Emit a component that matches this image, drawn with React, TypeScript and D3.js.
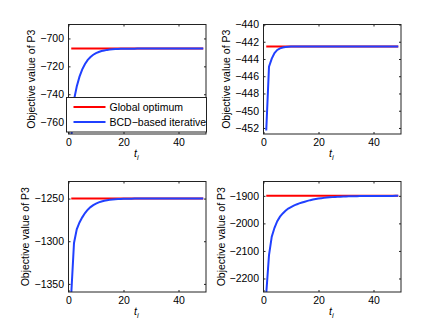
import React, { useEffect, useRef } from 'react';
import * as d3 from 'd3';

// iteration index t_i
const iterations = d3.range(1, 50);
const xTicks = [0, 20, 40];

// panel 1 (top left)
const optimumA = -707.2;
const bcdA = [
  -772, -744, -734.5, -727.4, -722.2, -718.3, -715.4, -713.3, -711.7, -710.5,
  -709.7, -709.0, -708.6, -708.2, -708.0, -707.8, -707.6, -707.5, -707.4, -707.4,
  -707.3, -707.3, -707.3, -707.3, -707.2, -707.2, -707.2, -707.2, -707.2, -707.2,
  -707.2, -707.2, -707.2, -707.2, -707.2, -707.2, -707.2, -707.2, -707.2, -707.2,
  -707.2, -707.2, -707.2, -707.2, -707.2, -707.2, -707.2, -707.2, -707.2
];
const yTicksA = [-760, -740, -720, -700];

// panel 2 (top right)
const optimumB = -442.55;
const bcdB = [
  -452.3, -444.9, -443.95, -443.3, -442.95, -442.76, -442.66, -442.6, -442.57, -442.56,
  -442.555, -442.55, -442.55, -442.55, -442.55, -442.55, -442.55, -442.55, -442.55, -442.55,
  -442.55, -442.55, -442.55, -442.55, -442.55, -442.55, -442.55, -442.55, -442.55, -442.55,
  -442.55, -442.55, -442.55, -442.55, -442.55, -442.55, -442.55, -442.55, -442.55, -442.55,
  -442.55, -442.55, -442.55, -442.55, -442.55, -442.55, -442.55, -442.55, -442.55
];
const yTicksB = [-452, -450, -448, -446, -444, -442, -440];

// panel 3 (bottom left)
const optimumC = -1250;
const bcdC = [
  -1362, -1302, -1286, -1278, -1272, -1267, -1263, -1260, -1257.7, -1255.9,
  -1254.5, -1253.4, -1252.6, -1252, -1251.5, -1251.1, -1250.8, -1250.6, -1250.4, -1250.3,
  -1250.2, -1250.15, -1250.1, -1250, -1250, -1250, -1250, -1250, -1250, -1250,
  -1250, -1250, -1250, -1250, -1250, -1250, -1250, -1250, -1250, -1250,
  -1250, -1250, -1250, -1250, -1250, -1250, -1250, -1250, -1250
];
const yTicksC = [-1350, -1300, -1250];

// panel 4 (bottom right)
const optimumD = -1900;
const bcdD = [
  -2255, -2115, -2048, -2016, -1992, -1975.5, -1964, -1954.4, -1946, -1940.6,
  -1935.6, -1931.3, -1927.5, -1924.2, -1921.3, -1918.3, -1915.7, -1913.5, -1911.6, -1910,
  -1908.6, -1907.4, -1906.3, -1905.4, -1904.7, -1904, -1903.5, -1903, -1902.5, -1902.2,
  -1901.9, -1901.6, -1901.4, -1901.2, -1901, -1900.9, -1900.8, -1900.7, -1900.6, -1900.5,
  -1900.45, -1900.4, -1900.35, -1900.3, -1900.25, -1900.2, -1900.2, -1900.15, -1900.1
];
const yTicksD = [-2200, -2100, -2000, -1900];

const legendLabels = ['Global optimum', 'BCD\u2212based iterative'];
const yLabel = 'Objective value of P3';

const panels = [
  { optimum: optimumA, bcd: bcdA, yTicks: yTicksA, yDomain: [-768.5, -690], box: [68.5, 24.5, 206, 134], labelGap: 37, legend: true },
  { optimum: optimumB, bcd: bcdB, yTicks: yTicksB, yDomain: [-452.7, -440], box: [263.5, 24.5, 401, 134], labelGap: 37.5, legend: false },
  { optimum: optimumC, bcd: bcdC, yTicks: yTicksC, yDomain: [-1359.5, -1230], box: [68.5, 181.5, 206, 292], labelGap: 43.5, legend: false },
  { optimum: optimumD, bcd: bcdD, yTicks: yTicksD, yDomain: [-2249, -1848], box: [263.5, 181.5, 401, 292], labelGap: 42.5, legend: false }
];

const FONT = '"Liberation Sans", Arial, Helvetica, sans-serif';
const RED = '#ff0000';
const BLUE = '#2040ff';
const fmt = d3.format('d');

function drawPanel(svg: any, p: any, idx: number) {
  const [left, top, right, bottom] = p.box;
  const x = d3.scaleLinear().domain([0, 50]).range([left, right]);
  const y = d3.scaleLinear().domain(p.yDomain).range([bottom, top]);

  const clipId = 'clip-' + idx;
  svg.append('clipPath').attr('id', clipId)
    .append('rect')
    .attr('x', left).attr('y', top)
    .attr('width', right - left).attr('height', bottom - top);

  const g = svg.append('g');

  g.append('rect')
    .attr('x', left).attr('y', top)
    .attr('width', right - left).attr('height', bottom - top)
    .attr('fill', '#fff');

  const styleAxis = (a: any) => {
    a.select('.domain').remove();
    a.selectAll('line').attr('stroke', '#222');
    a.selectAll('text').attr('font-family', FONT).attr('font-size', 10.5).attr('fill', '#000');
  };

  g.append('g').attr('transform', `translate(${left},0)`)
    .call(d3.axisLeft(y).tickValues(p.yTicks).tickFormat(fmt).tickSizeInner(-2).tickSizeOuter(0).tickPadding(4.5))
    .call(styleAxis);
  g.append('g').attr('transform', `translate(${right},0)`)
    .call(d3.axisRight(y).tickValues(p.yTicks).tickSizeInner(-2).tickSizeOuter(0).tickFormat(() => ''))
    .call(styleAxis);
  g.append('g').attr('transform', `translate(0,${bottom})`)
    .call(d3.axisBottom(x).tickValues(xTicks).tickFormat(fmt).tickSizeInner(-2).tickSizeOuter(0).tickPadding(5))
    .call(styleAxis);
  g.append('g').attr('transform', `translate(0,${top})`)
    .call(d3.axisTop(x).tickValues(xTicks).tickSizeInner(-2).tickSizeOuter(0).tickFormat(() => ''))
    .call(styleAxis);

  const line = d3.line<number>()
    .x((d, i) => x(iterations[i]))
    .y(d => y(d));

  const plot = g.append('g').attr('clip-path', `url(#${clipId})`);
  plot.append('path')
    .attr('d', line(iterations.map(() => p.optimum)))
    .attr('fill', 'none').attr('stroke', RED).attr('stroke-width', 2);
  plot.append('path')
    .attr('d', line(p.bcd))
    .attr('fill', 'none').attr('stroke', BLUE).attr('stroke-width', 2);

  // box
  g.append('rect')
    .attr('x', left).attr('y', top)
    .attr('width', right - left).attr('height', bottom - top)
    .attr('fill', 'none').attr('stroke', '#222').attr('stroke-width', 1);

  // y label
  g.append('text')
    .attr('transform', `translate(${left - p.labelGap},${(top + bottom) / 2}) rotate(-90)`)
    .attr('dy', '0.35em')
    .attr('text-anchor', 'middle')
    .attr('font-family', FONT).attr('font-size', 10.5)
    .text(yLabel);

  // x label t_i
  const xl = g.append('text')
    .attr('x', (left + right) / 2 - 1)
    .attr('y', bottom + 23)
    .attr('text-anchor', 'middle')
    .attr('font-family', FONT).attr('font-size', 10.5)
    .attr('font-style', 'italic');
  xl.append('tspan').text('t');
  xl.append('tspan').attr('font-size', 7.5).attr('dy', 3).text('i');

  if (p.legend) {
    const lx = 66.5, ly = 97.5, lw = 140, lh = 34.5;
    const lg = g.append('g');
    lg.append('rect')
      .attr('x', lx).attr('y', ly).attr('width', lw).attr('height', lh)
      .attr('fill', '#fff').attr('stroke', '#222').attr('stroke-width', 1);
    [RED, BLUE].forEach((c, i) => {
      const cy = ly + 9.5 + i * 15;
      lg.append('line')
        .attr('x1', lx + 7).attr('x2', lx + 39)
        .attr('y1', cy).attr('y2', cy)
        .attr('stroke', c).attr('stroke-width', 2);
      lg.append('text')
        .attr('x', lx + 43).attr('y', cy)
        .attr('dy', '0.35em')
        .attr('font-family', FONT).attr('font-size', 10.5)
        .text(legendLabels[i]);
    });
  }
}

export default function App() {
  const ref = useRef<SVGSVGElement>(null);

  useEffect(() => {
    const svg = d3.select(ref.current);
    svg.selectAll('*').remove();
    panels.forEach((p, i) => drawPanel(svg, p, i));
  }, []);

  return (
    <svg
      ref={ref}
      width={443}
      height={333}
      style={{ position: 'absolute', left: 0, top: 0, background: '#fff' }}
    />
  );
}
